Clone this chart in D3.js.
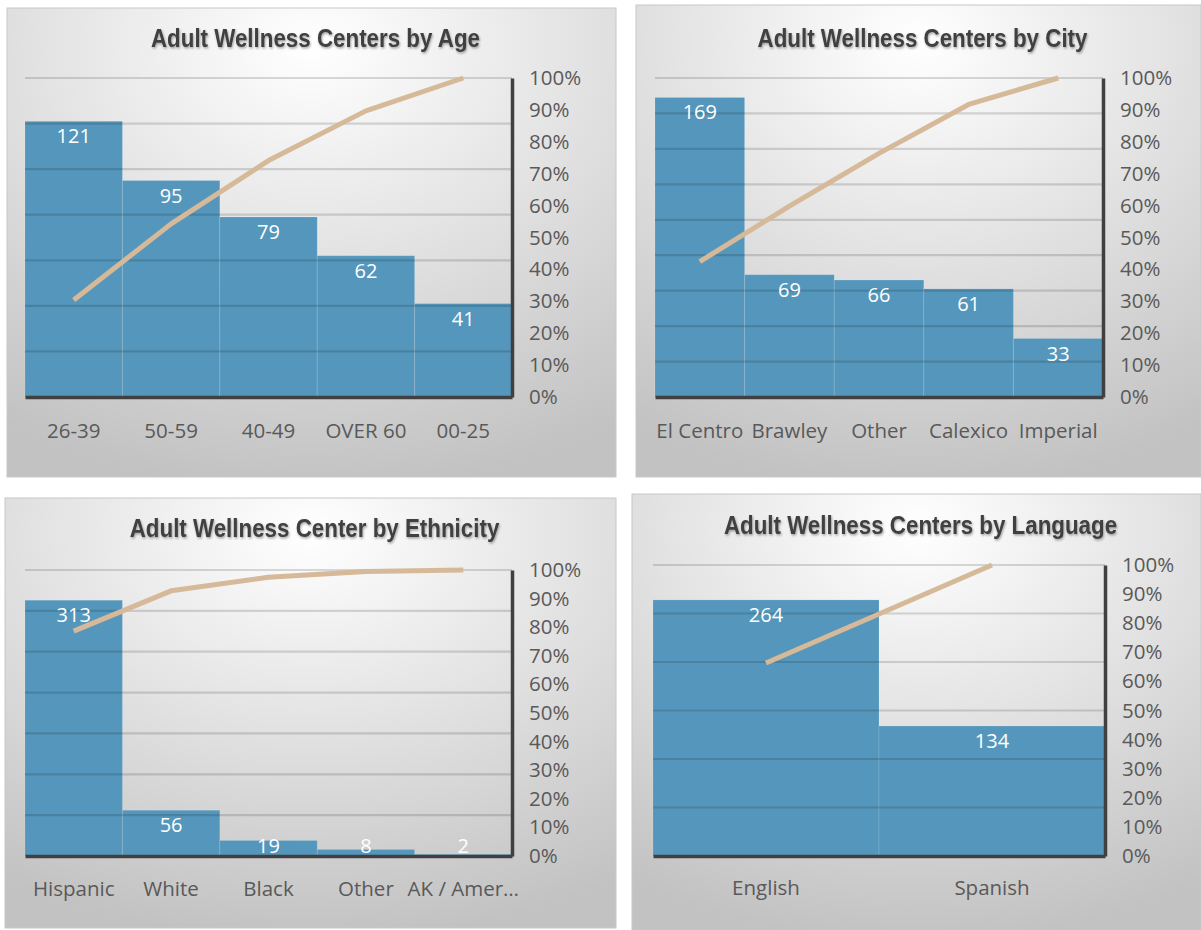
<!DOCTYPE html>
<html>
<head>
<meta charset="utf-8">
<script src="https://cdn.jsdelivr.net/npm/d3@7"></script>
<style>
  html, body { margin: 0; padding: 0; background: #ffffff; }
  svg { display: block; }
</style>
</head>
<body>
<svg id="chart" width="1201" height="930"></svg>
<script>
// Pareto data: counts per category, sorted as displayed
const ageCategories = ["26-39", "50-59", "40-49", "OVER 60", "00-25"];
const ageCounts = [121, 95, 79, 62, 41];

const cityCategories = ["El Centro", "Brawley", "Other", "Calexico", "Imperial"];
const cityCounts = [169, 69, 66, 61, 33];

const ethnicityCategories = ["Hispanic", "White", "Black", "Other", "AK / Amer…"];
const ethnicityCounts = [313, 56, 19, 8, 2];

const languageCategories = ["English", "Spanish"];
const languageCounts = [264, 134];

// Secondary (cumulative) axis ticks
const percentTicks = [0, 0.1, 0.2, 0.3, 0.4, 0.5, 0.6, 0.7, 0.8, 0.9, 1];

// Panel layout: background box, plot box, primary axis range
const panels = [
  { title: "Adult Wellness Centers by Age", cats: ageCategories, vals: ageCounts,
    box: [7, 8, 609, 469], plot: { l: 25, r: 512, t: 78, b: 397 }, yMax: 140, yStep: 20,
    titleY: 47, catY: 438 },
  { title: "Adult Wellness Centers by City", cats: cityCategories, vals: cityCounts,
    box: [636, 5, 565, 472], plot: { l: 655, r: 1103, t: 78, b: 397 }, yMax: 180, yStep: 20,
    titleY: 47, catY: 438 },
  { title: "Adult Wellness Center by Ethnicity", cats: ethnicityCategories, vals: ethnicityCounts,
    box: [5, 498, 611, 430], plot: { l: 25, r: 512, t: 570, b: 856 }, yMax: 350, yStep: 50,
    titleY: 537, catY: 896 },
  { title: "Adult Wellness Centers by Language", cats: languageCategories, vals: languageCounts,
    box: [632, 494, 569, 436], plot: { l: 653, r: 1105, t: 565, b: 856 }, yMax: 300, yStep: 50,
    titleY: 534, catY: 895 }
];

const svg = d3.select("#chart");
const defs = svg.append("defs");

const bg = defs.append("radialGradient")
  .attr("id", "panelBg")
  .attr("cx", "50%").attr("cy", "8%").attr("r", "95%")
  .attr("fx", "50%").attr("fy", "8%");
bg.append("stop").attr("offset", "0%").attr("stop-color", "#ffffff");
bg.append("stop").attr("offset", "45%").attr("stop-color", "#e4e4e4");
bg.append("stop").attr("offset", "100%").attr("stop-color", "#c2c2c2");

const shadow = defs.append("filter").attr("id", "titleShadow")
  .attr("x", "-10%").attr("y", "-30%").attr("width", "120%").attr("height", "160%");
shadow.append("feDropShadow")
  .attr("dx", 1).attr("dy", 1.5).attr("stdDeviation", 1.2)
  .attr("flood-color", "#000").attr("flood-opacity", 0.35);

const labelFont = "'Open Sans', 'Noto Sans', sans-serif";

panels.forEach(p => {
  const g = svg.append("g");
  const [bx, by, bw, bh] = p.box;
  const { l, r, t, b } = p.plot;

  // panel background
  g.append("rect")
    .attr("x", bx).attr("y", by).attr("width", bw).attr("height", bh)
    .attr("fill", "url(#panelBg)")
    .attr("stroke", "#c8c8c8").attr("stroke-width", 1);

  // title, horizontally condensed
  g.append("text")
    .attr("transform", `translate(${(bx + bx + bw) / 2 + 4},${p.titleY}) scale(0.86,1)`)
    .attr("text-anchor", "middle")
    .attr("font-family", "'Liberation Sans', Arial, sans-serif")
    .attr("font-weight", "bold")
    .attr("font-size", 26)
    .attr("fill", "#404040")
    .attr("filter", "url(#titleShadow)")
    .text(p.title);

  const x = d3.scaleBand().domain(p.cats).range([l, r]).padding(0);
  const y = d3.scaleLinear().domain([0, p.yMax]).range([b, t]);
  const yPct = d3.scaleLinear().domain([0, 1]).range([b, t]);

  const total = d3.sum(p.vals);
  const cumulative = d3.cumsum(p.vals).map(v => v / total);

  // bars
  g.append("g").selectAll("rect")
    .data(p.vals)
    .join("rect")
    .attr("x", (d, i) => x(p.cats[i]))
    .attr("y", d => y(d))
    .attr("width", x.bandwidth())
    .attr("height", d => b - y(d))
    .attr("fill", "#5597bc")
    .attr("stroke", "rgba(255,255,255,0.12)")
    .attr("stroke-width", 1);

  // primary-axis gridlines
  const gridTicks = d3.range(p.yStep, p.yMax + 0.001, p.yStep);
  g.append("g").selectAll("line")
    .data(gridTicks)
    .join("line")
    .attr("x1", l).attr("x2", r)
    .attr("y1", d => y(d)).attr("y2", d => y(d))
    .attr("stroke", "rgba(0,0,0,0.14)")
    .attr("stroke-width", 2.2);

  // data labels inside bar ends
  g.append("g").selectAll("text")
    .data(p.vals)
    .join("text")
    .attr("x", (d, i) => x(p.cats[i]) + x.bandwidth() / 2)
    .attr("y", d => Math.min(y(d) + 15, b - 10))
    .attr("dy", "0.35em")
    .attr("text-anchor", "middle")
    .attr("font-family", labelFont)
    .attr("font-size", 20)
    .attr("fill", "#ffffff")
    .text(d => d);

  // cumulative percentage line
  const line = d3.line()
    .x((d, i) => x(p.cats[i]) + x.bandwidth() / 2)
    .y(d => yPct(d));
  g.append("path")
    .datum(cumulative)
    .attr("d", line)
    .attr("fill", "none")
    .attr("stroke", "#d5b999")
    .attr("stroke-width", 5)
    .attr("stroke-linejoin", "round");

  // category axis
  const xAxis = g.append("g")
    .attr("transform", `translate(0,${b})`)
    .call(d3.axisBottom(x).tickSize(0).tickPadding(p.catY - b - 15));
  xAxis.select(".domain")
    .attr("stroke", "#404040").attr("stroke-width", 3.5);
  xAxis.selectAll("text")
    .attr("font-family", labelFont)
    .attr("font-size", 20.5)
    .attr("fill", "#595959");

  // secondary percent axis on the right
  const yAxis = g.append("g")
    .attr("transform", `translate(${r},0)`)
    .call(d3.axisRight(yPct).tickValues(percentTicks).tickFormat(d3.format(".0%"))
      .tickSize(0).tickPadding(17));
  yAxis.select(".domain")
    .attr("stroke", "#404040").attr("stroke-width", 3.5);
  yAxis.selectAll("text")
    .attr("font-family", labelFont)
    .attr("font-size", 20.5)
    .attr("fill", "#595959");
});
</script>
</body>
</html>
